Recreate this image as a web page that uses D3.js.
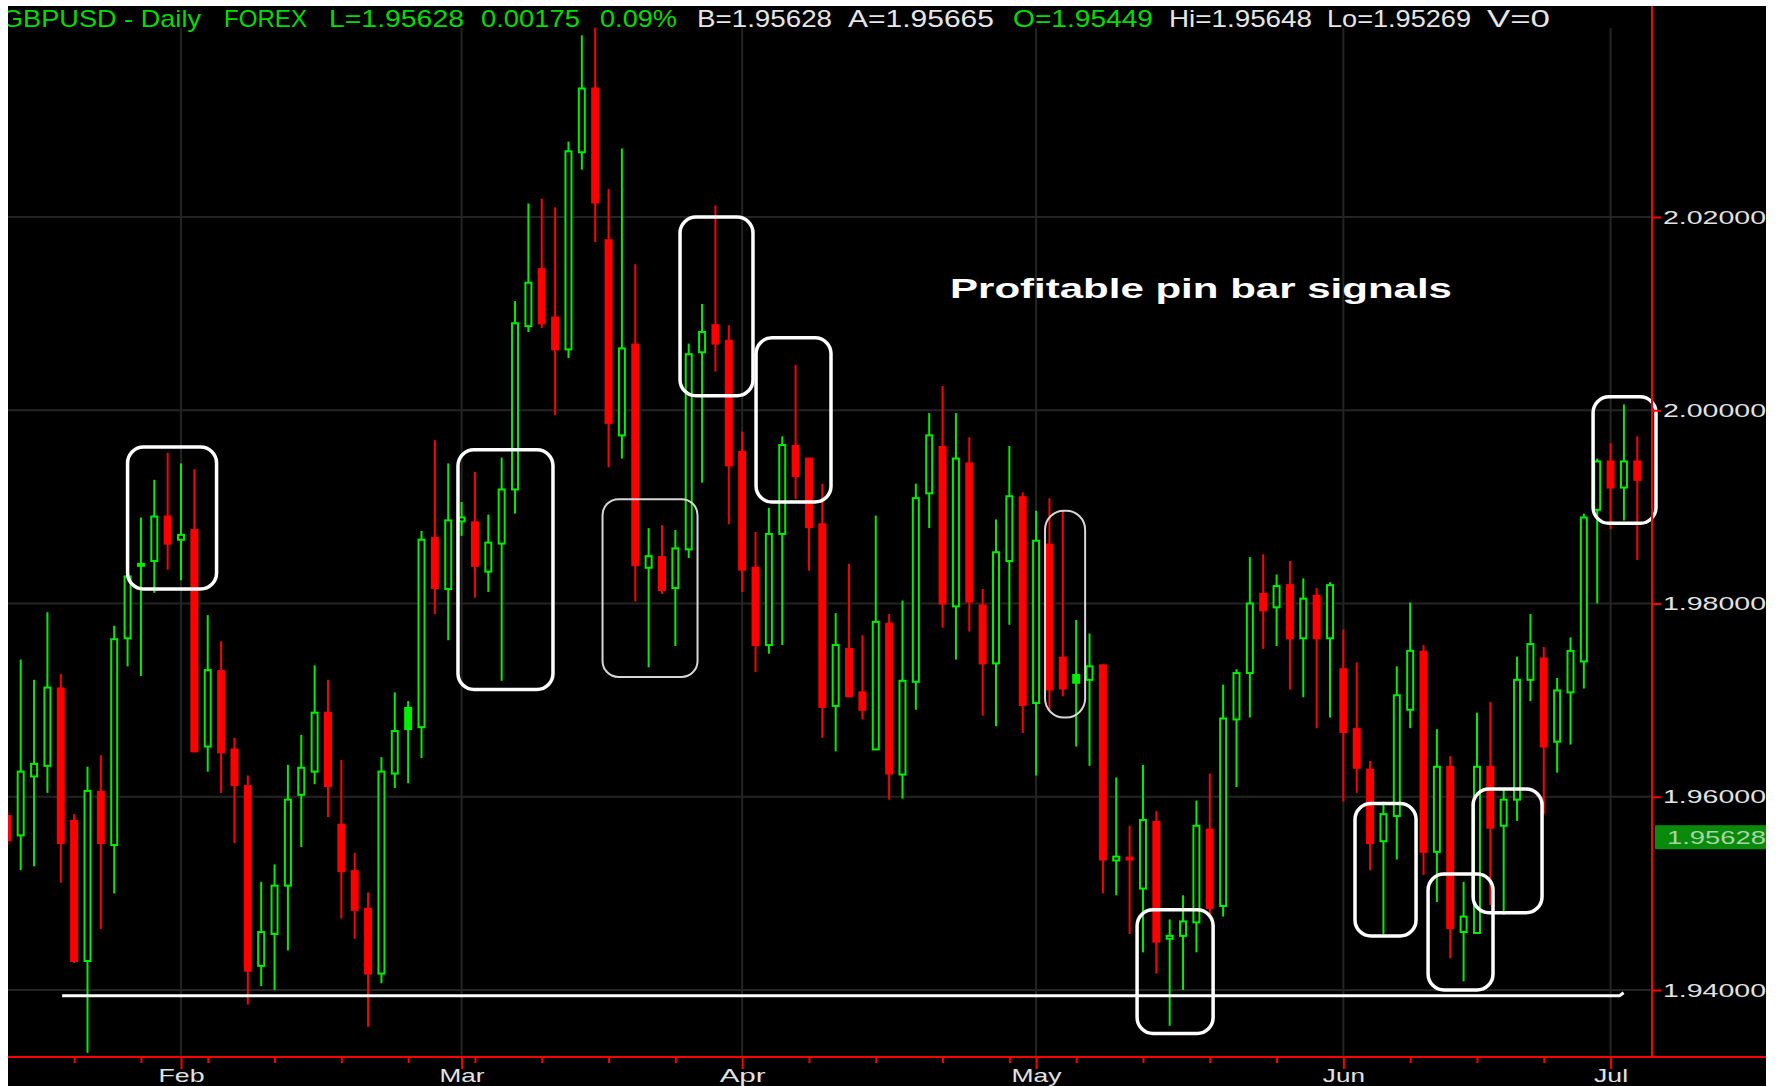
<!DOCTYPE html>
<html>
<head>
<meta charset="utf-8">
<script src="https://cdn.jsdelivr.net/npm/d3@7"></script>
<style>
  body { margin: 0; background: #fff; }
  svg { display: block; }
  text { font-family: "Liberation Sans", Arial, sans-serif; }
</style>
</head>
<body>
<div id="chart"></div>
<script>
// GBPUSD daily bars, one value per trading day (bar 0 is cut by the left edge)
var opens = [1.9580, 1.9560, 1.9621, 1.9632, 1.9712, 1.9575, 1.9430, 1.9605, 1.9550, 1.9764,
  1.9839, 1.9844, 1.9890, 1.9866, 1.9876, 1.9652, 1.9730, 1.9649, 1.9611, 1.9425,
  1.9458, 1.9508, 1.9602, 1.9626, 1.9687, 1.9571, 1.9523, 1.9484, 1.9417, 1.9624,
  1.9692, 1.9672, 1.9868, 1.9815, 1.9885, 1.9884, 1.9833, 1.9862, 1.9918, 2.0087,
  2.0146, 2.0096, 2.0063, 2.0267, 2.0333, 2.0176, 1.9974, 2.0068, 1.9837, 1.9848,
  1.9816, 1.9856, 2.0060, 2.0088, 2.0072, 1.9957, 1.9837, 1.9757, 1.9872, 1.9963,
  1.9950, 1.9882, 1.9694, 1.9753, 1.9708, 1.9649, 1.9779, 1.9623, 1.9719, 1.9914,
  1.9962, 1.9797, 1.9945, 1.9798, 1.9738, 1.9844, 1.9910, 1.9697, 1.9861, 1.9744,
  1.9726, 1.9721, 1.9736, 1.9534, 1.9537, 1.9505, 1.9574, 1.9453, 1.9456, 1.9470,
  1.9566, 1.9487, 1.9680, 1.9728, 1.9810, 1.9796, 1.9819, 1.9764, 1.9808, 1.9764,
  1.9732, 1.9670, 1.9628, 1.9554, 1.9580, 1.9690, 1.9750, 1.9543, 1.9631, 1.9460,
  1.9459, 1.9631, 1.9570, 1.9597, 1.9721, 1.9743, 1.9657, 1.9708, 1.9740, 1.9897,
  1.9947, 1.9920, 1.9947];
var highs = [1.9585, 1.9742, 1.9721, 1.9791, 1.9727, 1.9582, 1.9631, 1.9643, 1.9777, 1.9829,
  1.9889, 1.9928, 1.9956, 1.9945, 1.9939, 1.9788, 1.9761, 1.9661, 1.9622, 1.9512,
  1.9530, 1.9633, 1.9664, 1.9736, 1.9721, 1.9638, 1.9542, 1.9501, 1.9641, 1.9708,
  1.9699, 1.9875, 1.9969, 1.9945, 1.9905, 1.9936, 1.9892, 1.9951, 2.0113, 2.0214,
  2.0219, 2.0210, 2.0278, 2.0388, 2.0396, 2.0229, 2.0271, 2.0151, 1.9878, 1.9881,
  1.9876, 2.0069, 2.0110, 2.0212, 2.0088, 1.9978, 1.9874, 1.9899, 1.9973, 2.0047,
  1.9950, 1.9924, 1.9790, 1.9841, 1.9767, 1.9891, 1.9789, 1.9803, 1.9924, 1.9997,
  2.0025, 1.9997, 1.9972, 1.9815, 1.9887, 1.9963, 1.9915, 1.9896, 1.9909, 1.9896,
  1.9783, 1.9769, 1.9737, 1.9620, 1.9570, 1.9633, 1.9585, 1.9473, 1.9498, 1.9596,
  1.9624, 1.9716, 1.9732, 1.9848, 1.9851, 1.9830, 1.9844, 1.9826, 1.9816, 1.9822,
  1.9773, 1.9739, 1.9637, 1.9595, 1.9735, 1.9801, 1.9757, 1.9670, 1.9642, 1.9512,
  1.9687, 1.9698, 1.9607, 1.9745, 1.9789, 1.9755, 1.9723, 1.9765, 1.9893, 1.9950,
  1.9966, 2.0006, 1.9973];
var lows = [1.9550, 1.9524, 1.9528, 1.9604, 1.9511, 1.9428, 1.9335, 1.9463, 1.9500, 1.9735,
  1.9725, 1.9811, 1.9835, 1.9824, 1.9646, 1.9626, 1.9604, 1.9552, 1.9385, 1.9404,
  1.9400, 1.9441, 1.9548, 1.9613, 1.9579, 1.9474, 1.9453, 1.9362, 1.9407, 1.9609,
  1.9614, 1.9640, 1.9789, 1.9762, 1.9870, 1.9806, 1.9812, 1.9720, 1.9893, 2.0081,
  2.0085, 1.9995, 2.0054, 2.0249, 2.0174, 1.9941, 1.9950, 1.9802, 1.9734, 1.9810,
  1.9756, 1.9847, 1.9925, 2.0040, 1.9882, 1.9812, 1.9729, 1.9748, 1.9757, 1.9908,
  1.9834, 1.9661, 1.9647, 1.9703, 1.9680, 1.9649, 1.9597, 1.9598, 1.9690, 1.9878,
  1.9775, 1.9742, 1.9771, 1.9684, 1.9673, 1.9778, 1.9666, 1.9622, 1.9690, 1.9704,
  1.9652, 1.9632, 1.9500, 1.9498, 1.9458, 1.9439, 1.9417, 1.9363, 1.9400, 1.9439,
  1.9475, 1.9476, 1.9610, 1.9682, 1.9753, 1.9756, 1.9711, 1.9703, 1.9671, 1.9682,
  1.9595, 1.9604, 1.9524, 1.9458, 1.9535, 1.9671, 1.9519, 1.9491, 1.9433, 1.9409,
  1.9458, 1.9488, 1.9478, 1.9575, 1.9699, 1.9582, 1.9625, 1.9654, 1.9712, 1.9800,
  1.9877, 1.9886, 1.9845];
var closes = [1.9555, 1.9626, 1.9634, 1.9713, 1.9552, 1.9430, 1.9606, 1.9552, 1.9763, 1.9828,
  1.9841, 1.9890, 1.9862, 1.9871, 1.9647, 1.9731, 1.9646, 1.9612, 1.9420, 1.9460,
  1.9508, 1.9597, 1.9630, 1.9687, 1.9611, 1.9523, 1.9483, 1.9417, 1.9626, 1.9668,
  1.9670, 1.9866, 1.9816, 1.9886, 1.9889, 1.9839, 1.9863, 1.9918, 2.0090, 2.0132,
  2.0090, 2.0063, 2.0268, 2.0333, 2.0215, 1.9987, 2.0064, 1.9840, 1.9849, 1.9814,
  1.9857, 2.0058, 2.0081, 2.0069, 1.9943, 1.9835, 1.9757, 1.9872, 1.9964, 1.9932,
  1.9879, 1.9693, 1.9757, 1.9704, 1.9690, 1.9781, 1.9624, 1.9720, 1.9909, 1.9974,
  1.9800, 1.9950, 1.9802, 1.9738, 1.9853, 1.9911, 1.9695, 1.9865, 1.9711, 1.9712,
  1.9718, 1.9735, 1.9535, 1.9538, 1.9535, 1.9576, 1.9450, 1.9456, 1.9471, 1.9570,
  1.9485, 1.9681, 1.9728, 1.9800, 1.9793, 1.9818, 1.9764, 1.9805, 1.9764, 1.9819,
  1.9667, 1.9630, 1.9552, 1.9582, 1.9705, 1.9751, 1.9543, 1.9631, 1.9464, 1.9476,
  1.9631, 1.9568, 1.9597, 1.9721, 1.9758, 1.9652, 1.9710, 1.9751, 1.9889, 1.9947,
  1.9920, 1.9947, 1.9928];
// bars whose body is drawn as a solid green block
var solidGreen = [30, 80];

var monthLabels = ["Feb", "Mar", "Apr", "May", "Jun", "Jul"];
var monthBars = [13, 34, 55, 77, 100, 120];
var priceTicks = [1.94, 1.96, 1.98, 2.00, 2.02];
var lastPrice = 1.95628;

var headerTokens = ["GBPUSD - Daily", "FOREX", "L=1.95628", "0.00175", "0.09%",
  "B=1.95628", "A=1.95665", "O=1.95449", "Hi=1.95648", "Lo=1.95269", "V=0"];

// support line and pin bar boxes, in bars and prices
var supportPrice = 1.9394;
var supportBars = [4.1, 120.9];
var boxBars = [[9.0, 15.66], [33.73, 40.84], [44.55, 51.66], [50.35, 55.81], [56.04, 61.65],
  [77.67, 80.67], [84.56, 90.25], [100.87, 105.44], [106.34, 111.2], [109.71, 114.87], [118.69, 123.4]];
var boxPrices = [[1.9962, 1.9815], [1.9959, 1.9711], [1.9908, 1.9724], [2.0200, 2.0015], [2.0075, 1.9905],
  [1.9896, 1.9682], [1.9483, 1.9355], [1.9593, 1.9456], [1.9520, 1.9400], [1.9608, 1.9480], [2.0014, 1.9883]];

var svgWidth = 1781;
var svgHeight = 1086;
var plotLeft = 8, plotTop = 6, plotRight = 1766;
var axisX = 1652, axisY = 1057;
var green = "#00ee00", red = "#ff0000";

var svg = d3.select("#chart")
  .append("svg")
  .attr("width", svgWidth)
  .attr("height", svgHeight);

svg.append("rect")
  .attr("width", svgWidth)
  .attr("height", svgHeight)
  .attr("fill", "#000");

var x = d3.scaleLinear().domain([1, 122]).range([20.7, 1637.3]);
var y = d3.scaleLinear().domain([1.94, 2.02]).range([990, 217]);

// grid
svg.append("g").selectAll("line")
  .data(priceTicks)
  .enter()
  .append("line")
  .attr("x1", plotLeft).attr("x2", axisX)
  .attr("y1", d => y(d)).attr("y2", d => y(d))
  .attr("stroke", "#242424").attr("stroke-width", 2);

svg.append("g").selectAll("line")
  .data(monthBars)
  .enter()
  .append("line")
  .attr("x1", d => x(d)).attr("x2", d => x(d))
  .attr("y1", 28).attr("y2", axisY)
  .attr("stroke", "#242424").attr("stroke-width", 2);

// candles
var bars = d3.range(opens.length).map(function(i) {
  return { i: i, o: opens[i], h: highs[i], l: lows[i], c: closes[i] };
});

var candles = svg.append("g").selectAll("g")
  .data(bars)
  .enter()
  .append("g");

function barColor(d) {
  if (solidGreen.indexOf(d.i) >= 0) return green;
  return d.c >= d.o ? green : red;
}

candles.append("line")
  .attr("x1", d => x(d.i)).attr("x2", d => x(d.i))
  .attr("y1", d => y(d.h)).attr("y2", d => y(d.l))
  .attr("stroke", barColor)
  .attr("stroke-width", 2);

candles.each(function(d) {
  var g = d3.select(this);
  var top = y(Math.max(d.o, d.c));
  var bot = y(Math.min(d.o, d.c));
  var hollow = d.c >= d.o && solidGreen.indexOf(d.i) < 0;
  if (hollow) {
    g.append("rect")
      .attr("x", x(d.i) - 3).attr("width", 6)
      .attr("y", top).attr("height", Math.max(1, bot - top))
      .attr("fill", "#000").attr("stroke", green).attr("stroke-width", 2);
  } else {
    g.append("rect")
      .attr("x", x(d.i) - 4).attr("width", 8)
      .attr("y", top - 1).attr("height", Math.max(3, bot - top + 2))
      .attr("fill", barColor(d));
  }
});

// support line
var sx0 = x(supportBars[0]), sx1 = x(supportBars[1]), sy = y(supportPrice);
svg.append("path")
  .attr("d", `M${sx0},${sy} L${sx1 - 3},${sy} L${sx1 + 1},${sy - 3}`)
  .attr("fill", "none")
  .attr("stroke", "#fff")
  .attr("stroke-width", 3);

// pin bar boxes
var thinBoxes = [2, 5];
svg.append("g").selectAll("rect")
  .data(boxBars)
  .enter()
  .append("rect")
  .attr("x", d => x(d[0]))
  .attr("width", d => x(d[1]) - x(d[0]))
  .attr("y", (d, i) => y(boxPrices[i][0]))
  .attr("height", (d, i) => y(boxPrices[i][1]) - y(boxPrices[i][0]))
  .attr("rx", (d, i) => i === 5 ? 19 : 16)
  .attr("fill", "none")
  .attr("stroke", (d, i) => thinBoxes.indexOf(i) >= 0 ? "#d6d6d6" : "#fff")
  .attr("stroke-width", (d, i) => thinBoxes.indexOf(i) >= 0 ? 2 : 3.5);

svg.append("text")
  .attr("x", 950).attr("y", 298)
  .attr("font-size", 28).attr("font-weight", "bold")
  .attr("fill", "#fff")
  .attr("textLength", 502).attr("lengthAdjust", "spacingAndGlyphs")
  .text("Profitable pin bar signals");

// right price axis
var rightAxis = d3.axisRight(y)
  .tickValues(priceTicks)
  .tickSize(9)
  .tickFormat(d3.format(".5f"));

var yAxisG = svg.append("g")
  .attr("transform", `translate(${axisX}, 0)`)
  .call(rightAxis);
yAxisG.select(".domain").remove();
yAxisG.selectAll("line").attr("stroke", red).attr("stroke-width", 2);
yAxisG.selectAll("text")
  .attr("x", 11)
  .attr("fill", "#e2e2e2")
  .attr("font-size", 19)
  .attr("font-family", "Liberation Sans, Arial, sans-serif")
  .attr("textLength", 103).attr("lengthAdjust", "spacingAndGlyphs");

// last price marker
svg.append("rect")
  .attr("x", axisX + 3).attr("y", y(lastPrice) - 7.5)
  .attr("width", 126).attr("height", 24)
  .attr("fill", "#0a8a0a");
svg.append("text")
  .attr("x", axisX + 15).attr("y", y(lastPrice) + 11.5)
  .attr("font-size", 19)
  .attr("fill", "#a8d4a8")
  .attr("textLength", 99).attr("lengthAdjust", "spacingAndGlyphs")
  .text(d3.format(".5f")(lastPrice));

// bottom time axis: weekly minor ticks, month major ticks
var minorBars = d3.range(5, 123, 5).filter(d => monthBars.indexOf(d) < 0);
var minorAxis = d3.axisBottom(x).tickValues(minorBars).tickSize(6).tickFormat("");
var minorG = svg.append("g")
  .attr("transform", `translate(0, ${axisY})`)
  .call(minorAxis);
minorG.select(".domain").remove();
minorG.selectAll("line").attr("stroke", red).attr("stroke-width", 2);

var monthAxis = d3.axisBottom(x)
  .tickValues(monthBars)
  .tickSize(12)
  .tickFormat((d, i) => monthLabels[i]);
var monthG = svg.append("g")
  .attr("transform", `translate(0, ${axisY})`)
  .call(monthAxis);
monthG.select(".domain").remove();
monthG.selectAll("line").attr("stroke", red).attr("stroke-width", 2);
monthG.selectAll("text")
  .attr("y", 25).attr("dy", 0)
  .attr("fill", "#e2e2e2")
  .attr("font-size", 19)
  .attr("font-family", "Liberation Sans, Arial, sans-serif")
  .attr("textLength", (d, i) => [46, 45, 46, 50, 42, 34][i])
  .attr("lengthAdjust", "spacingAndGlyphs");

// axis lines
svg.append("line")
  .attr("x1", 0).attr("x2", svgWidth)
  .attr("y1", axisY).attr("y2", axisY)
  .attr("stroke", red).attr("stroke-width", 2);
svg.append("line")
  .attr("x1", axisX).attr("x2", axisX)
  .attr("y1", 0).attr("y2", axisY)
  .attr("stroke", red).attr("stroke-width", 2);

// header quote line
var headerPos = [[2, 199], [224, 83], [329, 135], [481, 99], [600, 77], [697, 135],
  [848, 146], [1013, 140], [1169, 143], [1327, 144], [1487, 63]];
var headerGreen = [true, true, true, true, true, false, false, true, false, false, false];
svg.append("g").selectAll("text")
  .data(headerTokens)
  .enter()
  .append("text")
  .attr("x", (d, i) => headerPos[i][0])
  .attr("y", 27)
  .attr("font-size", 24)
  .attr("fill", (d, i) => headerGreen[i] ? "#00dd00" : "#e6e6e6")
  .attr("textLength", (d, i) => headerPos[i][1])
  .attr("lengthAdjust", "spacingAndGlyphs")
  .text(d => d);

// white frame around the chart picture
svg.append("rect").attr("x", 0).attr("y", 0).attr("width", svgWidth).attr("height", plotTop).attr("fill", "#fff");
svg.append("rect").attr("x", 0).attr("y", 0).attr("width", plotLeft).attr("height", svgHeight).attr("fill", "#fff");
svg.append("rect").attr("x", plotRight).attr("y", 0).attr("width", svgWidth - plotRight).attr("height", svgHeight).attr("fill", "#fff");
</script>
</body>
</html>
